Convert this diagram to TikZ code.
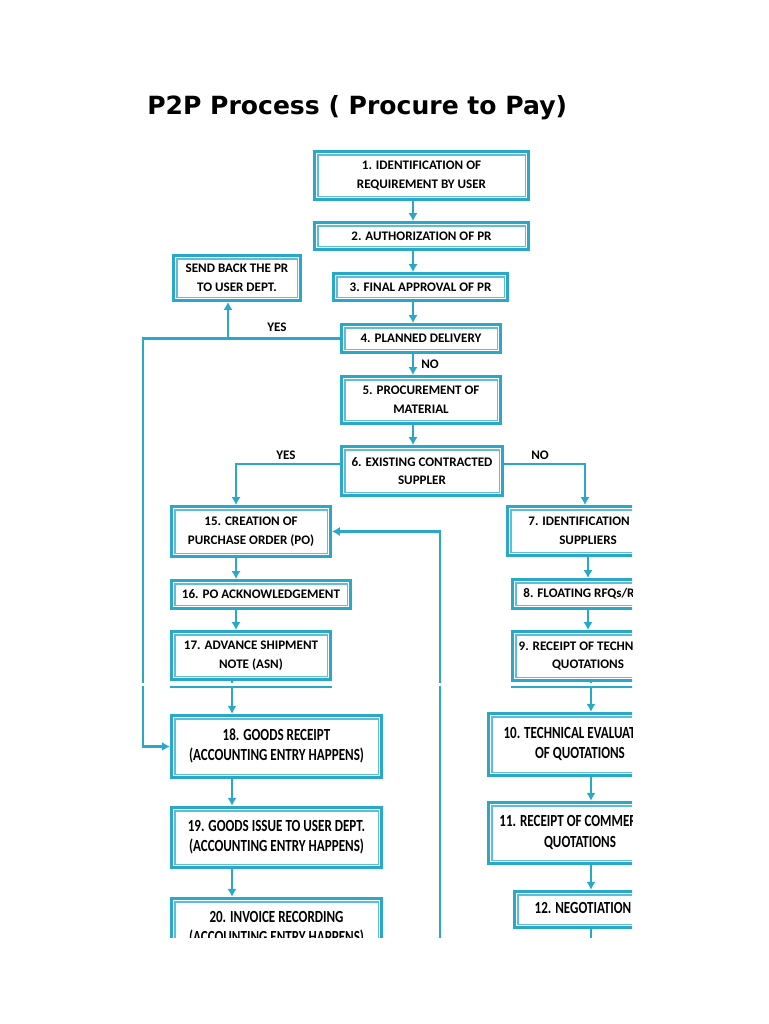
\documentclass[tikz,border=0pt]{standalone}
\usepackage{fontspec}
\setmainfont{Carlito}
\newfontfamily\titlefont{DejaVu Sans}
\usetikzlibrary{positioning}
\usetikzlibrary{arrows.meta}
\definecolor{pcyan}{HTML}{2AA8C8}
% lower half of the page is stretched upright
\newcommand{\tallt}[1]{\scalebox{1}[1.3]{\begin{tabular}{@{}c@{}}#1\end{tabular}}}

\tikzset{
  stepbox/.style={draw=pcyan, line width=2.2pt, fill=white, align=center,
    inner sep=0pt, font=\bfseries\fontsize{9.8}{14}\selectfont,
    path picture={\draw[pcyan!75, line width=0.8pt]
      ([shift={(2.6pt,-2.6pt)}]path picture bounding box.north west) rectangle
      ([shift={(-2.6pt,2.6pt)}]path picture bounding box.south east);}},
  bigbox/.style={stepbox, line width=2.6pt, font=\bfseries\fontsize{9.8}{11.6}\selectfont},
  boxsize/.style 2 args={minimum width=#1*0.75pt, minimum height=#2*0.75pt},
  flow/.style={draw=pcyan, line width=2pt, -{Latex[length=6pt,width=7pt]}},
  link/.style={draw=pcyan, line width=2pt},
  answer/.style={font=\bfseries\fontsize{9.8}{11}\selectfont, inner sep=0pt}
}

\begin{document}
\begin{tikzpicture}[x=0.75pt,y=-0.75pt]
\useasboundingbox (0,0) rectangle (768,1024);

\node[anchor=base west, inner sep=0pt, font=\titlefont\bfseries\fontsize{18.8}{20}\selectfont]
  (title) at (147,114) {P2P Process ( Procure to Pay)};

\begin{scope}
\clip (130,140) rectangle (632,937);

% main trunk
\node[stepbox,boxsize={214}{48}](n1) at (421.5,175.5){1. IDENTIFICATION OF\\REQUIREMENT BY USER};
\node[stepbox,boxsize={214}{27}](n2) at (421.5,236){2. AUTHORIZATION OF PR};
\node[stepbox,boxsize={174}{27}](n3) at (420.5,287){3. FINAL APPROVAL OF PR};
\node[stepbox,boxsize={127}{45}](back) at (237,278){SEND BACK THE PR\\TO USER DEPT.};
\node[stepbox,boxsize={159}{28}](n4) at (421,338.5){4. PLANNED DELIVERY};
\node[stepbox,boxsize={159}{47}](n5) at (421,400){5. PROCUREMENT OF\\MATERIAL};
\node[stepbox,boxsize={161}{49}](n6) at (422,471){6. EXISTING CONTRACTED\\SUPPLER};

% left column
\node[stepbox,boxsize={159}{50}](n15) at (251,531.5){15. CREATION OF\\PURCHASE ORDER (PO)};
\node[stepbox,boxsize={179}{28}](n16) at (261,594.5){16. PO ACKNOWLEDGEMENT};
\node[stepbox,boxsize={159}{48}](n17) at (251,655.5){17. ADVANCE SHIPMENT\\NOTE (ASN)};
\node[bigbox,boxsize={210}{62}](n18) at (276.5,746.5){\tallt{18. GOODS RECEIPT\\(ACCOUNTING ENTRY HAPPENS)}};
\node[bigbox,boxsize={210}{60}](n19) at (276.5,837.5){\tallt{19. GOODS ISSUE TO USER DEPT.\\(ACCOUNTING ENTRY HAPPENS)}};
\node[bigbox,boxsize={210}{60}](n20) at (276.5,928.5){\tallt{20. INVOICE RECORDING\\(ACCOUNTING ENTRY HAPPENS)}};

% right column
\node[stepbox,boxsize={161}{49}](n7) at (588,531){7. IDENTIFICATION OF\\SUPPLIERS};
\node[stepbox,boxsize={151}{29}](n8) at (588,594){8. FLOATING RFQs/RFPs};
\node[stepbox,boxsize={151}{49}](n9) at (588,656){9. RECEIPT OF TECHNICAL\\QUOTATIONS};
\node[bigbox,boxsize={183}{62}](n10) at (580,744.5){\tallt{10. TECHNICAL EVALUATION\\OF QUOTATIONS}};
\node[bigbox,boxsize={183}{61}](n11) at (580,833){\tallt{11. RECEIPT OF COMMERCIAL\\QUOTATIONS}};
\node[bigbox,boxsize={137}{36}](n12) at (583,909.5){\tallt{12. NEGOTIATION}};

\coordinate(ca) at (413,0);
\coordinate(lx) at (143,0);
\coordinate(bx) at (228,0);
\coordinate(y6) at (0,464);
\coordinate(c15) at (236,0);
\coordinate(c18) at (232,0);
\coordinate(c7) at (585,0);
\coordinate(c8) at (588,0);
\coordinate(c10) at (591,0);
\coordinate(ret) at (440,950);
\coordinate(out) at (591,950);
\coordinate(seam) at (0,687);

\path
(n1.south -| ca) edge[flow] (n2.north -| ca)
(n2.south -| ca) edge[flow] (n3.north -| ca)
(n3.south -| ca) edge[flow] (n4.north -| ca)
(n4.south -| ca) edge[flow] (n5.north -| ca)
(n5.south -| ca) edge[flow] (n6.north -| ca)
(n4.west -| bx) edge[flow] (back.south -| bx)
(n15.south -| c15) edge[flow] (n16.north -| c15)
(n16.south -| c15) edge[flow] (n17.north -| c15)
(n17.south -| c18) edge[flow] (n18.north -| c18)
(n18.south -| c18) edge[flow] (n19.north -| c18)
(n19.south -| c18) edge[flow] (n20.north -| c18)
(n7.south -| c8) edge[flow] (n8.north -| c8)
(n8.south -| c8) edge[flow] (n9.north -| c8)
(n9.south -| c10) edge[flow] (n10.north -| c10)
(n10.south -| c10) edge[flow] (n11.north -| c10)
(n11.south -| c10) edge[flow] (n12.north -| c10)
(n12.south -| c10) edge[link] (out);

\draw[flow](n4.west) -| (lx |- n18.west) -- (n18.west);
\draw[flow](n6.west |- y6) -| (n15.north -| c15);
\draw[flow](n6.east |- y6) -| (n7.north -| c7);
\draw[flow](ret) |- (n15.east);

\node[answer](yes4) at (277,327){YES};
\node[answer](no4) at (430,364){NO};
\node[answer](yes6) at (286,455){YES};
\node[answer](no6) at (540,455){NO};

% page seam
\fill[white](135,682.5) rectangle (640,685.5);
\draw[link,line width=2.2pt](n17.south west |- seam) -- (n17.south east |- seam);
\draw[link,line width=2.2pt](n9.south west |- seam) -- (n9.south east |- seam);
\end{scope}
\end{tikzpicture}
\end{document}
